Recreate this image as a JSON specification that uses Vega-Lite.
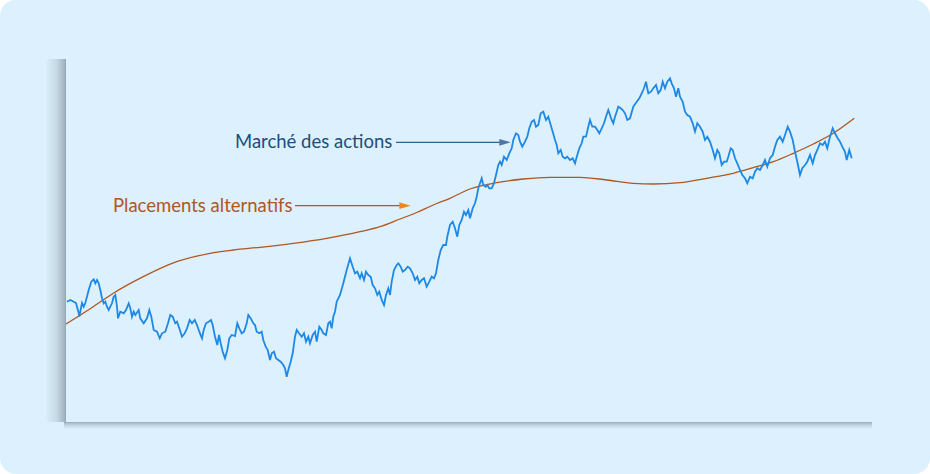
{
  "$schema": "https://vega.github.io/schema/vega-lite/v6.json",
  "width": 809,
  "height": 364,
  "autosize": "none",
  "padding": {"left": 66, "top": 58, "right": 55, "bottom": 52},
  "background": "#ffffff",
  "config": {"view": {"stroke": null}},
  "datasets": {
    "stock": [
      {"x": 1, "y": 120.3}, {"x": 4.3, "y": 122}, {"x": 7.7, "y": 120.3}, {"x": 10, "y": 119}, {"x": 12.7, "y": 109}, {"x": 13.3, "y": 105.3}, {"x": 16, "y": 119}, {"x": 17.7, "y": 115.3}, {"x": 19.3, "y": 119}, {"x": 22.7, "y": 132}, {"x": 25.3, "y": 140.3}, {"x": 27.7, "y": 142.7}, {"x": 29.3, "y": 138.7}, {"x": 31, "y": 142}, {"x": 32.7, "y": 138.7}, {"x": 34.3, "y": 132}, {"x": 36, "y": 123.7}, {"x": 37.7, "y": 118.7}, {"x": 39.3, "y": 120.3}, {"x": 41, "y": 115.3}, {"x": 42.7, "y": 112}, {"x": 44.3, "y": 115.3}, {"x": 46, "y": 118.7}, {"x": 47.7, "y": 125.3}, {"x": 49.3, "y": 127}, {"x": 51, "y": 115.3}, {"x": 52, "y": 103.7}, {"x": 54.3, "y": 110.3}, {"x": 57.7, "y": 108.7}, {"x": 60, "y": 112}, {"x": 62.7, "y": 118.7}, {"x": 64.3, "y": 113.7}, {"x": 66, "y": 105.3}, {"x": 67.7, "y": 110.3}, {"x": 69.3, "y": 107}, {"x": 72.7, "y": 112}, {"x": 74.3, "y": 103.7}, {"x": 77.7, "y": 98.7}, {"x": 81, "y": 103.7}, {"x": 83.3, "y": 112}, {"x": 85.3, "y": 105.3}, {"x": 87.7, "y": 92}, {"x": 91, "y": 90.3}, {"x": 93.7, "y": 83.7}, {"x": 96, "y": 88.7}, {"x": 99.3, "y": 90.3}, {"x": 102, "y": 98.7}, {"x": 104.3, "y": 107}, {"x": 106.7, "y": 105.3}, {"x": 109.3, "y": 98.7}, {"x": 111, "y": 100.3}, {"x": 113.3, "y": 93.7}, {"x": 116, "y": 85.3}, {"x": 118.7, "y": 88.7}, {"x": 121, "y": 93.7}, {"x": 123.7, "y": 102}, {"x": 126, "y": 98.7}, {"x": 128.7, "y": 102}, {"x": 131, "y": 97}, {"x": 133.3, "y": 90.3}, {"x": 136, "y": 83.7}, {"x": 137.7, "y": 92}, {"x": 140, "y": 98.7}, {"x": 142.7, "y": 100.3}, {"x": 145, "y": 102}, {"x": 146.7, "y": 97}, {"x": 149, "y": 85.3}, {"x": 151.3, "y": 77}, {"x": 153, "y": 87}, {"x": 154.7, "y": 78.7}, {"x": 156.7, "y": 70.3}, {"x": 159, "y": 63.7}, {"x": 161.3, "y": 72}, {"x": 163.3, "y": 83.7}, {"x": 165.7, "y": 87}, {"x": 169, "y": 86}, {"x": 171.3, "y": 98.7}, {"x": 173.3, "y": 93.7}, {"x": 175.7, "y": 88.7}, {"x": 178, "y": 90.3}, {"x": 180.7, "y": 98.7}, {"x": 182.3, "y": 107}, {"x": 184.7, "y": 103.7}, {"x": 187.3, "y": 98.7}, {"x": 189, "y": 97}, {"x": 190.7, "y": 90.3}, {"x": 193.3, "y": 88.7}, {"x": 195.7, "y": 90.3}, {"x": 197.3, "y": 82}, {"x": 199.7, "y": 75.3}, {"x": 201.7, "y": 72}, {"x": 204, "y": 62}, {"x": 205.7, "y": 68.7}, {"x": 208, "y": 70.3}, {"x": 210, "y": 63.7}, {"x": 212.3, "y": 62}, {"x": 214.7, "y": 60.3}, {"x": 217.3, "y": 57}, {"x": 219, "y": 53.7}, {"x": 220.7, "y": 45.3}, {"x": 222.3, "y": 52}, {"x": 224.7, "y": 60.3}, {"x": 226.7, "y": 68.7}, {"x": 229, "y": 85.3}, {"x": 230.7, "y": 92}, {"x": 233, "y": 88.7}, {"x": 235.7, "y": 85.3}, {"x": 238, "y": 88.7}, {"x": 240, "y": 80.3}, {"x": 242.3, "y": 85.3}, {"x": 244, "y": 78.7}, {"x": 246.7, "y": 87}, {"x": 249, "y": 90.3}, {"x": 250.7, "y": 80.3}, {"x": 253.3, "y": 95.3}, {"x": 255.7, "y": 92}, {"x": 257.3, "y": 88.7}, {"x": 260, "y": 87}, {"x": 262.3, "y": 98.7}, {"x": 264, "y": 100.3}, {"x": 265.7, "y": 93.7}, {"x": 267.3, "y": 105.3}, {"x": 269, "y": 110.3}, {"x": 270.7, "y": 120.3}, {"x": 274, "y": 127}, {"x": 277.3, "y": 138.7}, {"x": 280.7, "y": 152}, {"x": 284, "y": 163.7}, {"x": 286.7, "y": 155.3}, {"x": 289, "y": 148.7}, {"x": 291.3, "y": 150.3}, {"x": 294, "y": 143.7}, {"x": 295.7, "y": 148.7}, {"x": 298, "y": 142}, {"x": 300, "y": 150.3}, {"x": 302.3, "y": 147}, {"x": 304.7, "y": 145.3}, {"x": 306.7, "y": 137}, {"x": 309, "y": 133.7}, {"x": 311.3, "y": 127}, {"x": 313.3, "y": 130.3}, {"x": 315.7, "y": 122}, {"x": 318, "y": 117}, {"x": 320, "y": 127}, {"x": 322.3, "y": 133.7}, {"x": 324, "y": 127}, {"x": 325.7, "y": 140.3}, {"x": 328, "y": 152}, {"x": 330.7, "y": 157}, {"x": 332.3, "y": 158.7}, {"x": 334.7, "y": 155.3}, {"x": 336.7, "y": 150.3}, {"x": 339, "y": 152}, {"x": 341.7, "y": 155.3}, {"x": 344, "y": 153.7}, {"x": 346.7, "y": 148.7}, {"x": 349, "y": 142}, {"x": 351.3, "y": 145.3}, {"x": 353.3, "y": 138.7}, {"x": 355.7, "y": 142}, {"x": 358, "y": 143.7}, {"x": 360.7, "y": 135.3}, {"x": 363.3, "y": 140.3}, {"x": 365.7, "y": 145.3}, {"x": 368, "y": 143.7}, {"x": 370, "y": 148.7}, {"x": 372.3, "y": 162}, {"x": 374.7, "y": 172}, {"x": 377.3, "y": 177}, {"x": 380, "y": 177}, {"x": 381.3, "y": 185.3}, {"x": 384, "y": 197}, {"x": 386.7, "y": 200.3}, {"x": 389, "y": 193.7}, {"x": 391.3, "y": 185.3}, {"x": 393.3, "y": 197}, {"x": 395.7, "y": 202}, {"x": 398, "y": 210.3}, {"x": 400, "y": 207}, {"x": 402.3, "y": 212}, {"x": 404, "y": 203.7}, {"x": 406.7, "y": 213.7}, {"x": 409, "y": 218.7}, {"x": 410.7, "y": 225.3}, {"x": 412.3, "y": 233.7}, {"x": 414, "y": 238.7}, {"x": 415.7, "y": 243.7}, {"x": 417.3, "y": 237}, {"x": 419.7, "y": 235.3}, {"x": 421.3, "y": 237}, {"x": 423.3, "y": 233.7}, {"x": 425.7, "y": 233.7}, {"x": 428, "y": 238.7}, {"x": 430, "y": 247}, {"x": 432.3, "y": 257}, {"x": 434, "y": 260.3}, {"x": 435.7, "y": 257}, {"x": 438, "y": 265.3}, {"x": 440.7, "y": 262}, {"x": 443.3, "y": 268.7}, {"x": 445.7, "y": 273.7}, {"x": 447.3, "y": 282}, {"x": 450, "y": 288.7}, {"x": 452.3, "y": 287}, {"x": 454, "y": 280.3}, {"x": 456.3, "y": 275.3}, {"x": 459, "y": 280.3}, {"x": 461.3, "y": 285.3}, {"x": 463.3, "y": 293.7}, {"x": 465.7, "y": 300.3}, {"x": 468, "y": 302}, {"x": 470, "y": 295.3}, {"x": 472.3, "y": 297}, {"x": 474.7, "y": 308.7}, {"x": 477.3, "y": 310.3}, {"x": 480, "y": 302}, {"x": 482.3, "y": 305.3}, {"x": 484.7, "y": 297}, {"x": 486.7, "y": 290.3}, {"x": 489, "y": 282}, {"x": 490.7, "y": 277}, {"x": 492.3, "y": 268.7}, {"x": 494.7, "y": 272}, {"x": 496.7, "y": 265.3}, {"x": 499, "y": 263.7}, {"x": 501.3, "y": 265.3}, {"x": 504, "y": 262}, {"x": 506.7, "y": 263.7}, {"x": 509, "y": 258.7}, {"x": 511.3, "y": 267}, {"x": 513.3, "y": 273.7}, {"x": 515.7, "y": 278.7}, {"x": 517.3, "y": 285.3}, {"x": 520, "y": 285.3}, {"x": 522.3, "y": 295.3}, {"x": 524, "y": 302}, {"x": 526.3, "y": 295.3}, {"x": 529, "y": 295.3}, {"x": 531.3, "y": 292}, {"x": 533.3, "y": 288.7}, {"x": 535.7, "y": 293.7}, {"x": 538, "y": 298.7}, {"x": 540, "y": 305.3}, {"x": 542.3, "y": 312}, {"x": 544, "y": 307}, {"x": 545.7, "y": 302}, {"x": 547.3, "y": 298.7}, {"x": 549, "y": 305.3}, {"x": 550.7, "y": 310.3}, {"x": 552.3, "y": 315.3}, {"x": 554.7, "y": 313.7}, {"x": 556.7, "y": 312}, {"x": 559, "y": 308.7}, {"x": 561.3, "y": 302}, {"x": 564, "y": 303.7}, {"x": 567.3, "y": 315.3}, {"x": 570.7, "y": 320.3}, {"x": 573.3, "y": 323.7}, {"x": 575.7, "y": 328.7}, {"x": 578, "y": 333.7}, {"x": 580, "y": 340.3}, {"x": 582.3, "y": 328.7}, {"x": 585, "y": 330.3}, {"x": 587.3, "y": 333.7}, {"x": 590, "y": 337}, {"x": 592.3, "y": 328.7}, {"x": 594.7, "y": 332}, {"x": 596.7, "y": 340.3}, {"x": 599, "y": 333.7}, {"x": 601.3, "y": 340.3}, {"x": 604, "y": 343.7}, {"x": 605.7, "y": 338.7}, {"x": 608, "y": 333.7}, {"x": 610, "y": 325.3}, {"x": 612.3, "y": 333.7}, {"x": 614, "y": 325.3}, {"x": 616.7, "y": 320.3}, {"x": 619, "y": 310.3}, {"x": 621.3, "y": 307}, {"x": 624, "y": 305.3}, {"x": 626.7, "y": 298.7}, {"x": 629, "y": 290.3}, {"x": 631.3, "y": 298.7}, {"x": 634, "y": 295.3}, {"x": 636.7, "y": 290.3}, {"x": 639, "y": 282}, {"x": 641.3, "y": 285.3}, {"x": 644, "y": 280.3}, {"x": 646.7, "y": 272}, {"x": 649, "y": 263.7}, {"x": 651.3, "y": 272}, {"x": 653.3, "y": 268.7}, {"x": 655.7, "y": 257}, {"x": 658, "y": 260.3}, {"x": 660.7, "y": 260.3}, {"x": 662.3, "y": 265.3}, {"x": 664.7, "y": 273.7}, {"x": 666.7, "y": 272}, {"x": 669, "y": 263.7}, {"x": 671.3, "y": 258.7}, {"x": 674, "y": 252}, {"x": 676.3, "y": 247}, {"x": 679, "y": 243.7}, {"x": 681.3, "y": 238.7}, {"x": 684, "y": 245.3}, {"x": 686.7, "y": 243.7}, {"x": 689, "y": 250.3}, {"x": 691.3, "y": 253.7}, {"x": 694, "y": 252}, {"x": 696.7, "y": 257}, {"x": 699, "y": 262}, {"x": 701.3, "y": 255.3}, {"x": 704, "y": 263.7}, {"x": 706.7, "y": 267}, {"x": 709, "y": 275.3}, {"x": 711.3, "y": 282}, {"x": 714, "y": 285.3}, {"x": 716.7, "y": 280.3}, {"x": 719, "y": 287}, {"x": 721.7, "y": 295.3}, {"x": 724, "y": 290.3}, {"x": 726.7, "y": 282}, {"x": 729, "y": 270.3}, {"x": 731.3, "y": 260.3}, {"x": 734, "y": 247}, {"x": 736.3, "y": 253.7}, {"x": 739, "y": 257}, {"x": 741.3, "y": 260.3}, {"x": 744, "y": 267}, {"x": 746.7, "y": 258.7}, {"x": 749, "y": 267}, {"x": 751.3, "y": 272}, {"x": 754, "y": 278.7}, {"x": 756.7, "y": 277}, {"x": 759, "y": 280.3}, {"x": 761.3, "y": 273.7}, {"x": 764, "y": 285.3}, {"x": 766.7, "y": 293.7}, {"x": 769, "y": 288.7}, {"x": 771.7, "y": 283.7}, {"x": 774, "y": 280.3}, {"x": 776.3, "y": 275.3}, {"x": 779, "y": 270.3}, {"x": 780.7, "y": 262}, {"x": 783.3, "y": 272}, {"x": 785.7, "y": 263.7}
    ],
    "alt": [
      {"x": 0, "y": 98}, {"x": 27.3, "y": 115.3}, {"x": 47.3, "y": 128.7}, {"x": 77.3, "y": 145.3}, {"x": 110.7, "y": 160.3}, {"x": 144, "y": 168.7}, {"x": 167.3, "y": 172}, {"x": 194, "y": 174.7}, {"x": 227.3, "y": 178.7}, {"x": 260.7, "y": 183.7}, {"x": 294, "y": 190.3}, {"x": 314, "y": 195.3}, {"x": 334, "y": 203}, {"x": 350.7, "y": 209.5}, {"x": 367.3, "y": 217}, {"x": 384, "y": 223.7}, {"x": 404, "y": 233}, {"x": 430.7, "y": 239.3}, {"x": 457.3, "y": 243}, {"x": 484, "y": 244.7}, {"x": 514, "y": 244.7}, {"x": 540.7, "y": 242}, {"x": 567.3, "y": 238.7}, {"x": 587.3, "y": 238}, {"x": 614, "y": 239.3}, {"x": 640.7, "y": 243.7}, {"x": 667.3, "y": 248.7}, {"x": 687.3, "y": 254.3}, {"x": 707.3, "y": 260.3}, {"x": 727.3, "y": 268.7}, {"x": 747.3, "y": 278}, {"x": 767.3, "y": 288.7}, {"x": 788.3, "y": 303.7}
    ],
    "labels": [
      {"label": "Marché des actions", "x": 169, "y": 279.7, "x2": 330, "xh": 439},
      {"label": "Placements alternatifs", "x": 47, "y": 216.3, "x2": 229, "xh": 339}
    ]
  },
  "layer": [
    {
      "data": {"values": [{}]},
      "mark": {"type": "rect", "clip": false, "fill": "#dcf0fd", "cornerRadius": 16},
      "encoding": {
        "x": {"datum": -66, "type": "quantitative", "scale": {"domain": [0, 809], "nice": false, "zero": false}, "axis": null},
        "x2": {"datum": 864},
        "y": {"datum": -52, "type": "quantitative", "scale": {"domain": [0, 364], "nice": false, "zero": false}, "axis": null},
        "y2": {"datum": 422}
      }
    },
    {
      "data": {"values": [{}]},
      "mark": {"type": "rect", "clip": false, "fill": {"gradient": "linear", "x1": 0, "x2": 1, "y1": 0, "y2": 0, "stops": [{"offset": 0, "color": "#dcf0fd"}, {"offset": 0.55, "color": "#c6d9e5"}, {"offset": 0.92, "color": "#a2b6c2"}, {"offset": 1, "color": "#90a5b1"}]}},
      "encoding": {
        "x": {"datum": -21, "type": "quantitative"},
        "x2": {"datum": 0},
        "y": {"datum": 0, "type": "quantitative"},
        "y2": {"datum": 363}
      }
    },
    {
      "data": {"values": [{}]},
      "mark": {"type": "rect", "clip": false, "fill": {"gradient": "linear", "x1": 0, "x2": 0, "y1": 0, "y2": 1, "stops": [{"offset": 0, "color": "#93a6b1"}, {"offset": 0.12, "color": "#a6b9c4"}, {"offset": 0.5, "color": "#c4d7e3"}, {"offset": 1, "color": "#dcf0fd"}]}},
      "encoding": {
        "x": {"datum": -2, "type": "quantitative"},
        "x2": {"datum": 806},
        "y": {"datum": 0, "type": "quantitative"},
        "y2": {"datum": -7}
      }
    },
    {
      "data": {"name": "alt"},
      "mark": {"type": "line", "color": "#b0561f", "strokeWidth": 1.3, "interpolate": "monotone"},
      "encoding": {
        "x": {"field": "x", "type": "quantitative"},
        "y": {"field": "y", "type": "quantitative"}
      }
    },
    {
      "data": {"name": "stock"},
      "mark": {"type": "line", "color": "#1e88e5", "strokeWidth": 1.8, "strokeJoin": "miter"},
      "encoding": {
        "x": {"field": "x", "type": "quantitative"},
        "y": {"field": "y", "type": "quantitative"}
      }
    },
    {
      "data": {"name": "labels"},
      "mark": {"type": "rule", "strokeWidth": 1.3},
      "encoding": {
        "x": {"field": "x2", "type": "quantitative"},
        "x2": {"field": "xh"},
        "y": {"field": "y", "type": "quantitative"},
        "color": {"field": "label", "type": "nominal", "scale": {"domain": ["Marché des actions", "Placements alternatifs"], "range": ["#2a6590", "#b0561f"]}, "legend": null}
      }
    },
    {
      "data": {"name": "labels"},
      "mark": {"type": "point", "filled": true, "opacity": 1, "size": 130, "shape": "M-1,-0.6L1,0L-1,0.6Z"},
      "encoding": {
        "x": {"field": "xh", "type": "quantitative"},
        "y": {"field": "y", "type": "quantitative"},
        "color": {"field": "label", "type": "nominal", "legend": null}
      }
    },
    {
      "data": {"name": "labels"},
      "mark": {"type": "text", "align": "left", "baseline": "middle", "font": "Lato", "fontSize": 18.5},
      "encoding": {
        "x": {"field": "x", "type": "quantitative"},
        "y": {"field": "y", "type": "quantitative"},
        "text": {"field": "label"},
        "color": {"field": "label", "type": "nominal", "scale": {"domain": ["Marché des actions", "Placements alternatifs"], "range": ["#1b4e7b", "#b0561f"]}, "legend": null}
      }
    }
  ],
  "resolve": {"scale": {"color": "independent"}}
}
